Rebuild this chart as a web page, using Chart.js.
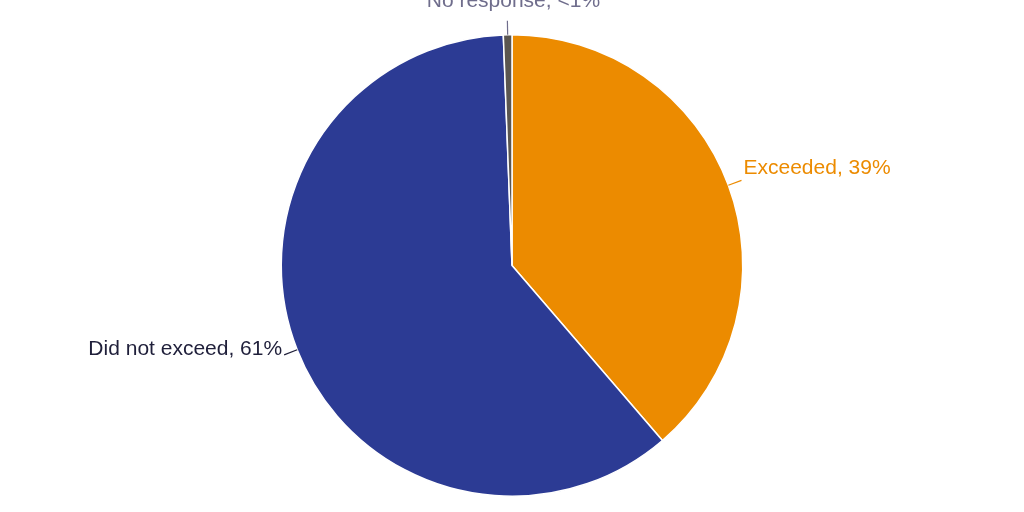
<!DOCTYPE html>
<html><head><meta charset="utf-8">
<script src="https://cdn.jsdelivr.net/npm/chart.js@4"></script>
<style>html,body{margin:0;background:#fff}#wrap{width:1024px;height:512px}</style>
</head><body><div id="wrap"><canvas id="c"></canvas></div>
<script>
const labels = ['Exceeded', 'Did not exceed', 'No response'];
const values = [38.7, 60.7, 0.6];
const valueText = ['39%', '61%', '<1%'];
const colors = ['#ec8b00', '#2c3b94', '#5b5650'];
const labelColors = ['#ec8b00', '#1f1f3a', '#6f6d8c'];

const outLabels = {
  id: 'outLabels',
  afterDraw(chart) {
    const ctx = chart.ctx;
    const arcs = chart.getDatasetMeta(0).data;
    ctx.save();
    ctx.font = '21px "Liberation Sans", sans-serif';
    ctx.textBaseline = 'middle';
    arcs.forEach((a, i) => {
      const mid = (a.startAngle + a.endAngle) / 2;
      const r = a.outerRadius;
      const x0 = a.x + Math.cos(mid) * r, y0 = a.y + Math.sin(mid) * r;
      const x1 = a.x + Math.cos(mid) * (r + 14), y1 = a.y + Math.sin(mid) * (r + 14);
      const right = Math.cos(mid) >= 0.05;
      const left = Math.cos(mid) <= -0.05;
      const txt = labels[i] + ', ' + valueText[i];
      ctx.strokeStyle = labelColors[i];
      ctx.lineWidth = 1.2;
      ctx.beginPath();
      ctx.moveTo(x0, y0);
      ctx.lineTo(x1, y1);
      ctx.stroke();
      ctx.fillStyle = labelColors[i];
      if (right) { ctx.textAlign = 'left'; ctx.fillText(txt, x1 + 2, y1 - 12); }
      else if (left) { ctx.textAlign = 'right'; ctx.fillText(txt, x1 - 2, y1 - 6); }
      else { ctx.textAlign = 'center'; ctx.fillText(txt, x1 + 6, y1 - 20); }
    });
    ctx.restore();
  }
};

new Chart(document.getElementById('c'), {
  type: 'pie',
  data: {
    labels: labels,
    datasets: [{ data: values, backgroundColor: colors, borderColor: '#ffffff', borderWidth: 1.5 }]
  },
  options: {
    responsive: true,
    maintainAspectRatio: false,
    animation: false,
    layout: { padding: { top: 34, bottom: 15 } },
    plugins: { legend: { display: false }, tooltip: { enabled: false } }
  },
  plugins: [outLabels]
});
</script></body></html>
